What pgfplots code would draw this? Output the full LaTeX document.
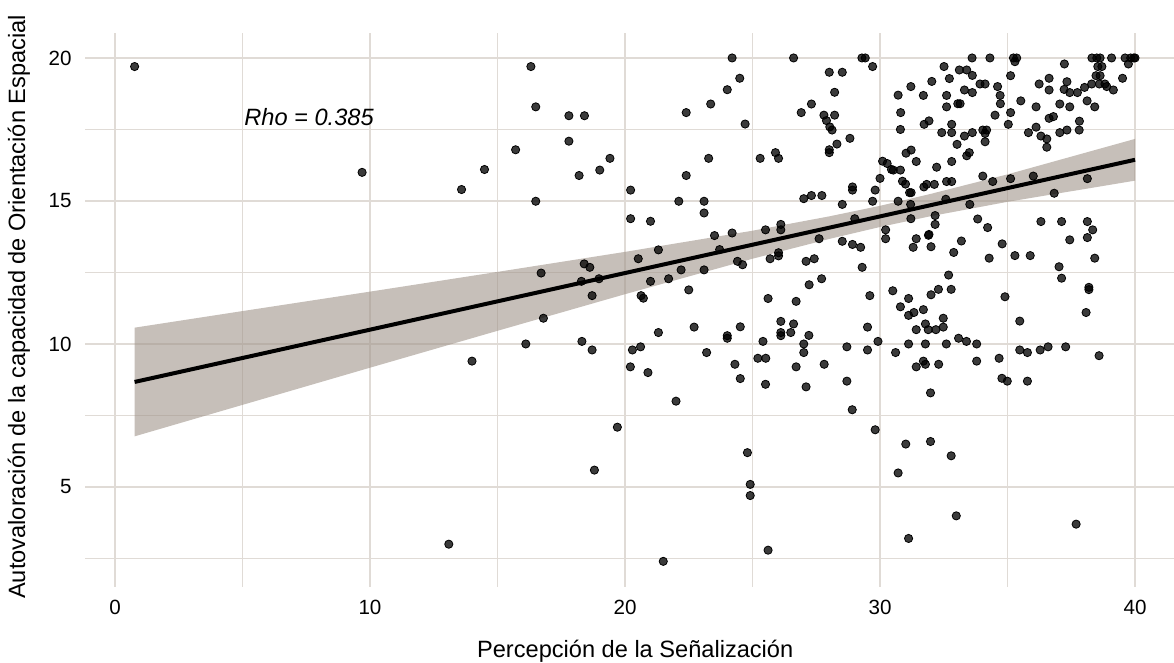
\documentclass[border=0pt]{standalone}
\usepackage{fontspec}
\setmainfont{Liberation Sans}
\usepackage{pgfplots}
\usepackage{pgfplotstable}
\pgfplotsset{compat=1.18}
\definecolor{gridc}{RGB}{224,219,214}
\definecolor{bandc}{RGB}{160,148,138}
\pgfplotstableread{
x y
0.77 19.7
9.69 16.0
14.49 16.1
13.59 15.4
14.0 9.4
13.09 3.0
16.31 19.70
16.50 18.29
17.80 17.98
18.41 17.98
17.80 17.09
15.71 16.79
18.20 15.89
19.01 16.08
19.41 16.49
16.50 14.99
20.22 15.38
20.22 14.38
21.0 14.29
22.11 14.99
22.40 15.89
22.40 18.09
23.36 18.39
23.28 16.49
23.1 14.99
23.1 14.58
21.31 13.29
20.52 12.98
18.40 12.80
18.62 12.68
16.71 12.48
18.29 12.19
18.98 12.28
18.71 11.69
21.0 12.19
21.71 12.28
22.2 12.59
23.1 12.59
22.50 11.89
20.63 11.69
20.72 11.60
16.80 10.90
16.11 10.0
18.31 10.09
18.71 9.79
21.31 10.40
22.71 10.59
20.29 9.79
20.61 9.90
23.2 9.70
20.21 9.20
20.9 9.0
22.0 8.0
19.70 7.09
18.80 5.59
21.5 2.40
24.20 20.0
26.61 20.0
29.29 20.0
29.42 20.0
29.71 19.70
24.50 19.29
24.01 18.89
24.71 17.69
28.01 19.50
28.52 19.50
28.22 18.80
27.31 18.39
26.91 18.09
27.80 18.0
28.22 18.0
27.90 17.81
28.03 17.59
28.12 17.48
28.82 17.19
28.31 16.99
28.01 16.79
28.01 16.69
25.30 16.49
25.90 16.69
26.02 16.49
30.10 16.39
30.28 16.31
30.45 16.10
30.80 16.08
30.0 15.79
30.88 15.69
31.0 15.59
31.16 15.29
31.22 15.29
31.72 15.49
28.92 15.49
28.92 15.38
29.81 15.38
29.71 14.99
30.71 14.99
27.01 15.08
27.31 15.19
27.72 15.19
28.52 14.88
23.51 13.79
24.20 13.88
25.51 13.99
26.11 14.18
26.11 13.99
29.01 14.38
31.21 14.38
27.61 13.68
28.52 13.59
28.92 13.48
29.24 13.38
30.22 13.99
30.22 13.68
31.42 13.68
31.30 13.38
23.71 13.30
24.41 12.89
24.61 12.77
25.69 12.98
26.02 13.19
26.02 13.08
27.10 12.89
27.42 12.98
29.30 12.68
27.22 12.07
27.71 12.28
30.71 18.70
31.21 19.0
30.81 18.09
30.80 17.5
31.02 16.67
31.22 16.78
31.42 16.38
30.52 16.08
31.2 14.88
25.61 11.59
26.71 11.49
29.60 11.69
30.50 11.86
31.12 11.59
30.80 11.30
31.12 11.0
31.33 11.10
31.42 10.50
31.12 10.0
30.61 9.70
31.42 9.20
31.01 6.50
30.71 5.49
31.12 3.20
24.52 10.60
24.01 10.29
24.01 10.2
24.31 9.29
24.52 8.79
25.41 10.09
25.21 9.50
25.52 9.50
25.51 8.59
26.11 10.79
26.11 10.40
26.11 10.29
26.61 10.70
26.50 10.40
27.21 10.30
27.01 10.0
27.01 9.70
26.71 9.20
27.81 9.29
27.10 8.50
28.70 9.90
28.70 8.70
28.91 7.70
29.51 10.59
29.51 9.79
29.92 10.09
29.81 7.0
24.80 6.20
24.91 5.09
24.91 4.70
25.61 2.79
33.61 20.0
34.31 20.0
32.51 19.70
33.11 19.58
33.40 19.58
33.62 19.39
32.72 19.28
32.03 19.18
33.92 19.09
34.12 19.09
34.61 19.0
31.70 18.69
32.61 18.69
32.61 18.29
33.05 18.40
33.14 18.40
33.31 18.88
33.62 18.79
34.71 18.69
34.72 18.40
34.51 18.0
31.73 17.68
31.92 17.80
32.42 17.39
32.81 17.68
32.81 17.39
33.31 17.27
33.62 17.39
34.03 17.48
34.18 17.48
34.12 17.36
34.12 17.07
33.02 16.98
33.40 16.58
33.50 16.69
32.81 16.38
32.22 16.18
34.03 15.87
34.42 15.68
32.61 15.68
32.81 15.68
32.13 15.58
31.83 15.58
33.52 14.88
33.83 14.37
34.22 14.07
32.16 14.49
32.16 14.18
31.92 13.83
32.58 15.06
35.23 20.0
35.36 20.0
35.29 19.87
37.23 19.79
38.31 20.0
38.50 20.0
38.63 20.0
39.08 20.0
39.61 20.0
39.83 20.0
40.0 20.0
39.95 20.0
39.74 19.79
38.54 19.70
38.70 19.70
38.47 19.38
38.63 19.38
39.51 19.29
38.30 19.09
38.60 19.09
38.82 19.09
38.89 19.0
39.15 18.88
35.12 19.38
36.24 19.09
36.63 19.29
36.63 18.88
37.33 19.17
37.22 18.90
37.44 18.79
37.74 18.79
38.02 18.97
35.52 18.50
36.12 18.29
35.12 18.09
35.03 17.68
37.05 18.39
37.44 18.29
38.12 18.50
38.42 18.29
36.80 17.95
36.63 17.89
37.82 17.79
37.81 17.48
37.33 17.48
36.12 17.58
35.82 17.39
37.05 17.39
36.31 17.27
36.54 17.17
36.54 16.88
35.12 15.78
36.01 15.87
38.13 15.78
36.83 15.27
36.31 14.28
37.12 14.28
38.13 14.28
38.34 13.99
38.13 13.72
37.44 13.64
32.0 13.40
31.9 13.80
32.89 13.20
33.19 13.60
34.79 13.50
34.28 13.0
35.29 13.09
35.89 13.09
38.42 13.0
37.02 12.70
37.12 12.30
38.19 11.98
38.19 11.9
32.69 12.41
32.29 11.91
32.79 11.91
32.0 11.72
34.9 11.65
38.08 11.10
31.70 11.20
35.48 10.80
31.78 10.70
31.89 10.50
32.19 10.50
32.48 10.90
32.48 10.59
31.78 10.0
32.6 10.0
33.08 10.20
33.39 10.09
33.79 10.0
31.70 9.40
31.78 9.29
32.30 9.29
33.79 9.40
34.67 9.50
34.78 8.80
34.99 8.70
35.48 9.79
35.78 9.70
36.28 9.79
36.59 9.90
37.28 9.90
38.59 9.59
35.78 8.70
31.98 8.29
31.98 6.59
32.79 6.09
32.99 3.99
37.69 3.70
}\pts
\pgfplotstableread{
x y
0.77 10.57
5 11.15
10 11.83
15 12.52
20 13.22
25 13.96
28 14.46
30 14.83
32 15.25
35 15.93
40 17.17
40 15.71
35 14.97
32 14.47
30 14.09
28 13.67
25 12.98
20 11.74
15 10.46
10 9.17
5 7.87
0.77 6.77
}\band
\begin{document}
\begin{tikzpicture}
\begin{axis}[
  scale only axis, width=549.8pt, height=276.85pt,
  xmin=-1.16, xmax=41.96, ymin=1.52, ymax=20.88,
  xtick={0,10,20,30,40}, ytick={5,10,15,20},
  minor xtick={5,15,25,35}, minor ytick={2.5,7.5,12.5,17.5},
  grid=both,
  major grid style={draw=gridc, line width=0.9pt},
  minor grid style={draw=gridc, line width=0.9pt},
  axis line style={draw=none},
  tick style={draw=none},
  major tick length=0pt, minor tick length=0pt,
  /pgf/number format/assume math mode=true,
  ticklabel style={font=\fontsize{10.3}{12}\selectfont, text=black, inner sep=0pt},
  xticklabel style={anchor=center, yshift=-10.25pt},
  yticklabel style={anchor=east, xshift=-6.7pt},
  xlabel={Percepción de la Señalización},
  ylabel={Autovaloración de la capacidad de Orientación Espacial},
  label style={font=\fontsize{11.8}{14}\selectfont, inner sep=0pt},
  xlabel style={at={(axis description cs:0.5,-0.1165)}, anchor=center},
  ylabel style={at={(axis description cs:-0.0604,0.505)}, anchor=center},
]
\addplot[only marks, mark=*, mark size=2.05pt, mark options={draw=none, fill=black, fill opacity=0.77}] table[x=x,y=y] {\pts};
\addplot[draw=none, fill=bandc, fill opacity=0.6] table[x=x,y=y] {\band};
\addplot[black, line width=2pt] coordinates {(0.77,8.672) (40,16.44)};
\node[anchor=west, inner sep=0pt, font=\itshape\fontsize{11.8}{14}\selectfont] at (axis cs:5.06,17.94) {Rho = 0.385};
\end{axis}
\pgfresetboundingbox
\path[use as bounding box] (current axis.south west) ++(-42.7pt,-37.75pt) rectangle ([shift={(-5.5pt,16.4pt)}]current axis.north east);
\end{tikzpicture}
\end{document}
